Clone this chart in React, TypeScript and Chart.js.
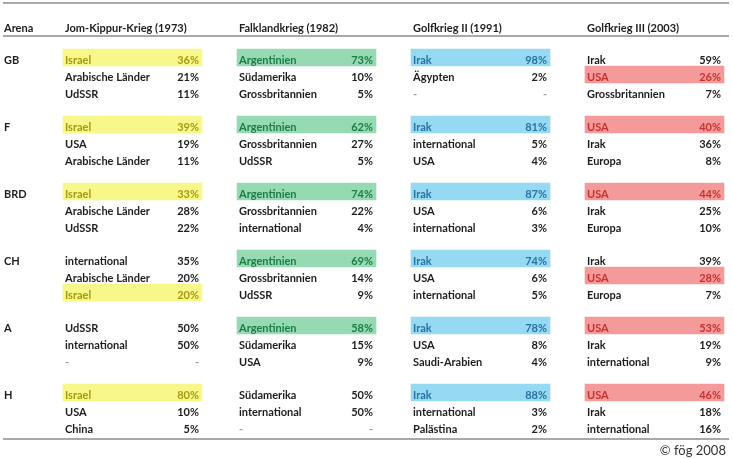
import React, { useEffect, useRef } from "react";
import { Chart, registerables } from "chart.js";

Chart.register(...registerables);

// ---------- data ----------
const arenas = ["GB", "F", "BRD", "CH", "A", "H"];
const wars = [
  "Jom-Kippur-Krieg (1973)",
  "Falklandkrieg (1982)",
  "Golfkrieg II (1991)",
  "Golfkrieg III (2003)",
];
const focusActors = ["Israel", "Argentinien", "Irak", "USA"];

const jomKippurActors = [
  ["Israel", "Arabische Länder", "UdSSR"],
  ["Israel", "USA", "Arabische Länder"],
  ["Israel", "Arabische Länder", "UdSSR"],
  ["international", "Arabische Länder", "Israel"],
  ["UdSSR", "international", null],
  ["Israel", "USA", "China"],
];
const jomKippurShares = [
  [36, 21, 11],
  [39, 19, 11],
  [33, 28, 22],
  [35, 20, 20],
  [50, 50, null],
  [80, 10, 5],
];

const falklandActors = [
  ["Argentinien", "Südamerika", "Grossbritannien"],
  ["Argentinien", "Grossbritannien", "UdSSR"],
  ["Argentinien", "Grossbritannien", "international"],
  ["Argentinien", "Grossbritannien", "UdSSR"],
  ["Argentinien", "Südamerika", "USA"],
  ["Südamerika", "international", null],
];
const falklandShares = [
  [73, 10, 5],
  [62, 27, 5],
  [74, 22, 4],
  [69, 14, 9],
  [58, 15, 9],
  [50, 50, null],
];

const golf2Actors = [
  ["Irak", "Ägypten", null],
  ["Irak", "international", "USA"],
  ["Irak", "USA", "international"],
  ["Irak", "USA", "international"],
  ["Irak", "USA", "Saudi-Arabien"],
  ["Irak", "international", "Palästina"],
];
const golf2Shares = [
  [98, 2, null],
  [81, 5, 4],
  [87, 6, 3],
  [74, 6, 5],
  [78, 8, 4],
  [88, 3, 2],
];

const golf3Actors = [
  ["Irak", "USA", "Grossbritannien"],
  ["USA", "Irak", "Europa"],
  ["USA", "Irak", "Europa"],
  ["Irak", "USA", "Europa"],
  ["USA", "Irak", "international"],
  ["USA", "Irak", "international"],
];
const golf3Shares = [
  [59, 26, 7],
  [40, 36, 8],
  [44, 25, 10],
  [39, 28, 7],
  [53, 19, 9],
  [46, 18, 16],
];

const copyright = "© fög 2008";

const actorsByWar = [jomKippurActors, falklandActors, golf2Actors, golf3Actors];
const sharesByWar = [jomKippurShares, falklandShares, golf2Shares, golf3Shares];

// ---------- layout & style ----------
const W = 733;
const H = 459;
const COL_PX = 174; // pixels per column unit
const COL0_PX = 63; // pixel of column 0
const ROW_PX = 17; // pixels per row unit
const ROW0_PX = 49; // pixel of row 0 top
const GROUP_STEP = 67 / 17; // rows between arena groups
const CELL_W = 139 / 174;
const BASELINE = 15 / 17;

const fillColors = ["#f8f88a", "#96dab4", "#95d9f2", "#f59a9a"];
const focusTextColors = ["#a59a12", "#1c7c44", "#2a72a6", "#c43230"];
const TEXT = "#1e1e1e";
const DASH = "#9a9a9a";
const LINE = "#8c8c8c";
const FONT = "Lato, 'Open Sans', sans-serif";

function buildHighlights() {
  const data: any[] = [];
  const colors: string[] = [];
  actorsByWar.forEach((groups, c) => {
    groups.forEach((rows, g) => {
      rows.forEach((actor, r) => {
        if (actor === focusActors[c]) {
          data.push({ x: [c, c + CELL_W], y: g * GROUP_STEP + r + 0.5 });
          colors.push(fillColors[c]);
        }
      });
    });
  });
  return { data, colors };
}

const tablePlugin = {
  id: "tableText",
  afterDatasetsDraw(chart: any) {
    const ctx = chart.ctx as CanvasRenderingContext2D;
    const xs = chart.scales.x;
    const ys = chart.scales.y;
    const px = (u: number) => xs.getPixelForValue(u);
    const py = (v: number) => ys.getPixelForValue(v);
    ctx.save();

    // rules
    ctx.strokeStyle = LINE;
    ctx.lineWidth = 1.5;
    const lineLeft = px(-0.3448);
    const lineRight = px(3.828);
    [-2.706, -0.765, 22.94].forEach((v) => {
      const yy = py(v);
      ctx.beginPath();
      ctx.moveTo(lineLeft, yy);
      ctx.lineTo(lineRight, yy);
      ctx.stroke();
    });

    ctx.textBaseline = "alphabetic";
    ctx.font = `bold 11px ${FONT}`;
    ctx.fillStyle = TEXT;
    ctx.textAlign = "left";
    const arenaX = px(-0.339);
    ctx.fillText("Arena", arenaX, py(-1));
    wars.forEach((w, c) => {
      ctx.fillText(w, px(c) + 2, py(-1));
    });

    arenas.forEach((a, g) => {
      ctx.fillStyle = TEXT;
      ctx.textAlign = "left";
      ctx.fillText(a, arenaX, py(g * GROUP_STEP + BASELINE));
    });

    actorsByWar.forEach((groups, c) => {
      groups.forEach((rows, g) => {
        rows.forEach((actor, r) => {
          const share = sharesByWar[c][g][r];
          const base = py(g * GROUP_STEP + r + BASELINE);
          const left = px(c) + 2;
          const right = px(c + CELL_W) - 3;
          let color = TEXT;
          if (actor === null) color = DASH;
          else if (actor === focusActors[c]) color = focusTextColors[c];
          ctx.fillStyle = color;
          ctx.textAlign = "left";
          ctx.fillText(actor === null ? "-" : actor, left, base);
          ctx.textAlign = "right";
          ctx.fillText(share === null ? "-" : `${share}%`, right, base);
        });
      });
    });

    ctx.font = `13px ${FONT}`;
    ctx.fillStyle = "#333333";
    ctx.textAlign = "right";
    ctx.fillText(copyright, px(3.81), py(23.88));
    ctx.restore();
  },
};

export default function App() {
  const ref = useRef<HTMLCanvasElement | null>(null);
  useEffect(() => {
    if (!ref.current) return;
    const { data, colors } = buildHighlights();
    const chart = new Chart(ref.current, {
      type: "bar",
      data: {
        datasets: [
          {
            data,
            backgroundColor: colors,
            borderWidth: 0,
            barThickness: ROW_PX,
            grouped: false,
          } as any,
        ],
      },
      options: {
        indexAxis: "y",
        animation: false,
        responsive: false,
        devicePixelRatio: 1,
        layout: { padding: 0 },
        events: [],
        scales: {
          x: {
            type: "linear",
            display: false,
            offset: false,
            min: -COL0_PX / COL_PX,
            max: (W - COL0_PX) / COL_PX,
          },
          y: {
            type: "linear",
            display: false,
            offset: false,
            reverse: true,
            min: -ROW0_PX / ROW_PX,
            max: (H - ROW0_PX) / ROW_PX,
          },
        },
        plugins: {
          legend: { display: false },
          tooltip: { enabled: false },
        },
      } as any,
      plugins: [tablePlugin],
    });
    return () => chart.destroy();
  }, []);

  return (
    <div style={{ position: "absolute", left: 0, top: 0, width: W, height: H, background: "#fff" }}>
      <canvas ref={ref} width={W} height={H} style={{ display: "block", width: W, height: H }} />
    </div>
  );
}
